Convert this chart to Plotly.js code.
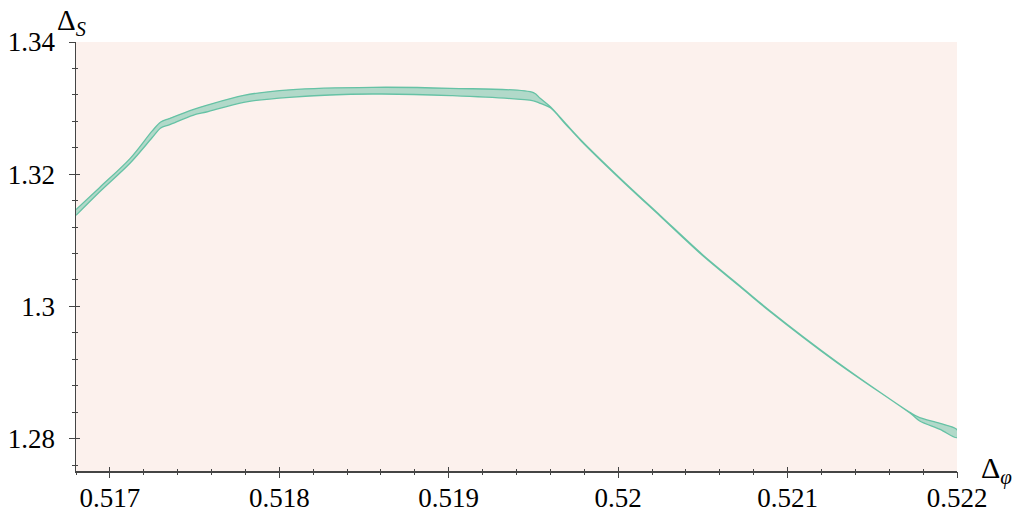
<!DOCTYPE html>
<html>
<head>
<meta charset="utf-8">
<script src="https://cdn.plot.ly/plotly-3.0.1.min.js"></script>
<style>html,body{margin:0;padding:0;background:#fff;}#chart{width:1021px;height:512px;}</style>
</head>
<body>
<div id="chart"></div>
<script>
// Δφ values along the band
const deltaPhi = [0.51680, 0.51694, 0.51712, 0.51725, 0.51730, 0.51735, 0.51749, 0.51757, 0.51779, 0.51806,
  0.51855, 0.51901, 0.51950, 0.51954, 0.51960, 0.51969, 0.51978, 0.52001, 0.52025, 0.52050,
  0.52072, 0.52089, 0.52129, 0.52173, 0.52178, 0.52190, 0.52200];
// upper bound of ΔS
const deltaSUpper = [1.31464, 1.31800, 1.32240, 1.32655, 1.32790, 1.32841, 1.32977, 1.33042, 1.33194, 1.33277,
  1.33315, 1.33299, 1.33234, 1.33148, 1.33020, 1.32768, 1.32519, 1.31944, 1.31373, 1.30779,
  1.30310, 1.29947, 1.29164, 1.28385, 1.28317, 1.28231, 1.28136];
// lower bound of ΔS
const deltaSLower = [1.31378, 1.31735, 1.32170, 1.32555, 1.32700, 1.32747, 1.32891, 1.32941, 1.33088, 1.33163,
  1.33213, 1.33189, 1.33110, 1.33073, 1.33004, 1.32756, 1.32507, 1.31932, 1.31361, 1.30767,
  1.30298, 1.29935, 1.29152, 1.28371, 1.28266, 1.28140, 1.28015];

const xTickVals = [0.517, 0.518, 0.519, 0.520, 0.521, 0.522];
const xTickText = ['0.517', '0.518', '0.519', '0.52', '0.521', '0.522'];
const yTickVals = [1.28, 1.30, 1.32, 1.34];
const yTickText = ['1.28', '1.3', '1.32', '1.34'];

const xRange = [0.5168, 0.522];
const yRange = [1.2751, 1.34];

const bandX = deltaPhi.concat(deltaPhi.slice().reverse());
const bandY = deltaSUpper.concat(deltaSLower.slice().reverse());

const traces = [
  {
    x: bandX, y: bandY, type: 'scatter', mode: 'lines', fill: 'toself',
    fillcolor: 'rgba(102,194,165,0.5)',
    line: {color: '#66c2a5', width: 1.3, shape: 'spline', smoothing: 0.9},
    hoverinfo: 'skip', showlegend: false
  },
  {
    x: deltaPhi, y: deltaSUpper, type: 'scatter', mode: 'markers',
    marker: {opacity: 0}, xaxis: 'x2', yaxis: 'y2', hoverinfo: 'skip', showlegend: false
  }
];

const tickFont = {family: 'Liberation Serif, DejaVu Serif, serif', size: 27, color: '#000'};
const axisCol = '#444';

const layout = {
  width: 1021, height: 512,
  margin: {l: 76, r: 64, t: 42, b: 41, pad: 0},
  paper_bgcolor: '#ffffff',
  plot_bgcolor: '#fcf1ed',
  showlegend: false,
  xaxis: {
    range: xRange, tickvals: xTickVals, ticktext: xTickText,
    showgrid: false, zeroline: false, showline: true, linecolor: axisCol, linewidth: 1.5,
    ticks: 'inside', ticklen: 4, tickwidth: 1, tickcolor: axisCol,
    minor: {dtick: 0.0002, tick0: 0.517, ticks: 'inside', ticklen: 2, tickcolor: axisCol, showgrid: false},
    tickfont: tickFont, ticklabelstandoff: 2, automargin: false, fixedrange: true
  },
  yaxis: {
    range: yRange, tickvals: yTickVals, ticktext: yTickText,
    showgrid: false, zeroline: false, showline: true, linecolor: axisCol, linewidth: 1.5,
    ticks: 'inside', ticklen: 4, tickwidth: 1, tickcolor: axisCol,
    minor: {dtick: 0.004, tick0: 1.28, ticks: 'inside', ticklen: 2, tickcolor: axisCol, showgrid: false},
    tickfont: tickFont, ticklabelstandoff: 14, automargin: false, fixedrange: true
  },
  xaxis2: {
    range: xRange, overlaying: 'x', anchor: 'y2', side: 'bottom',
    tickvals: xTickVals, showticklabels: false,
    showgrid: false, zeroline: false, showline: false,
    ticks: 'outside', ticklen: 6, tickwidth: 1, tickcolor: axisCol,
    minor: {dtick: 0.0002, tick0: 0.517, ticks: 'outside', ticklen: 3, tickcolor: axisCol, showgrid: false},
    fixedrange: true
  },
  yaxis2: {
    range: yRange, overlaying: 'y', anchor: 'x2', side: 'left',
    tickvals: yTickVals, showticklabels: false,
    showgrid: false, zeroline: false, showline: false,
    ticks: 'outside', ticklen: 6, tickwidth: 1, tickcolor: axisCol,
    minor: {dtick: 0.004, tick0: 1.28, ticks: 'outside', ticklen: 3, tickcolor: axisCol, showgrid: false},
    fixedrange: true
  },
  annotations: [
    {
      text: 'Δ<sub><i>S</i></sub>', xref: 'paper', yref: 'paper',
      x: 0, y: 1, xanchor: 'center', yanchor: 'bottom', xshift: -5, yshift: 0,
      showarrow: false, font: {family: 'Liberation Serif, DejaVu Serif, serif', size: 29, color: '#000'}
    },
    {
      text: 'Δ<sub><i>φ</i></sub>', xref: 'paper', yref: 'paper',
      x: 1, y: 0, xanchor: 'left', yanchor: 'bottom', xshift: 22, yshift: -20,
      showarrow: false, font: {family: 'Liberation Serif, DejaVu Serif, serif', size: 30, color: '#000'}
    }
  ]
};

Plotly.newPlot('chart', traces, layout, {displayModeBar: false, staticPlot: true});
</script>
</body>
</html>
